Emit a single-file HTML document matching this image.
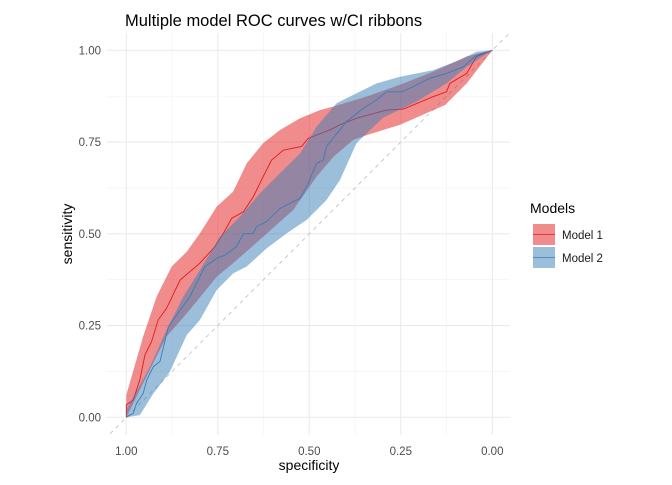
<!DOCTYPE html>
<html><head><meta charset="utf-8"><style>
body{margin:0;background:#fff}
svg text{font-family:"Liberation Sans",Arial,sans-serif}
</style></head><body>
<svg id="chart" width="672" height="480" xmlns="http://www.w3.org/2000/svg">
<defs><clipPath id="pc"><rect x="107" y="33" width="403" height="402"/></clipPath></defs>
<text x="125" y="26" font-size="16.5" fill="#000">Multiple model ROC curves w/CI ribbons</text>
<g id="grid"></g>
<g id="marks" clip-path="url(#pc)"></g>
<g id="axes"></g>
<text x="309" y="470" font-size="14" text-anchor="middle">specificity</text>
<text transform="translate(72,234) rotate(-90)" font-size="14" text-anchor="middle">sensitivity</text>
<g>
<text x="530" y="213" font-size="14">Models</text>
<g>
<rect x="533" y="224" width="22" height="21" fill="#e41a1c" fill-opacity="0.5"/>
<line x1="533" y1="234.5" x2="555" y2="234.5" stroke="#e41a1c" stroke-width="0.8"/>
<text x="562" y="239" font-size="11.5" fill="#1a1a1a">Model 1</text></g>
<g>
<rect x="533" y="247" width="22" height="21" fill="#377eb8" fill-opacity="0.5"/>
<line x1="533" y1="257.5" x2="555" y2="257.5" stroke="#377eb8" stroke-width="0.8"/>
<text x="562" y="262" font-size="11.5" fill="#1a1a1a">Model 2</text></g>
</g>
</svg>
<script>
const xTicks=[1.00,0.75,0.50,0.25,0.00];
const yTicks=[0.00,0.25,0.50,0.75,1.00];
const xTickLabels=["1.00","0.75","0.50","0.25","0.00"];
const yTickLabels=["0.00","0.25","0.50","0.75","1.00"];
const m1Spec=[1,1,0.981,0.963,0.949,0.931,0.913,0.890,0.853,0.799,0.758,0.735,0.712,0.680,0.653,0.626,0.603,0.571,0.521,0.503,0.444,0.416,0.371,0.289,0.243,0.161,0.125,0.116,0.070,0.043,0];
const m1Sens=[0,0.034,0.047,0.102,0.170,0.206,0.265,0.297,0.374,0.420,0.465,0.501,0.542,0.560,0.601,0.656,0.701,0.728,0.738,0.760,0.783,0.797,0.815,0.837,0.840,0.874,0.887,0.910,0.937,0.983,1];
const m1UpSpec=[1,0.954,0.917,0.876,0.835,0.799,0.753,0.708,0.671,0.626,0.580,0.525,0.471,0.434,0.343,0.252,0.161,0.070,0];
const m1UpSens=[0.061,0.220,0.329,0.411,0.451,0.501,0.574,0.615,0.692,0.747,0.783,0.815,0.837,0.847,0.874,0.906,0.942,0.983,1];
const m1LoSpec=[1,0.954,0.890,0.835,0.753,0.708,0.626,0.544,0.480,0.434,0.380,0.343,0.252,0.129,0.070,0];
const m1LoSens=[0,0.093,0.220,0.283,0.383,0.420,0.492,0.565,0.656,0.710,0.756,0.769,0.797,0.851,0.910,1];
const m2Spec=[1,0.981,0.972,0.954,0.944,0.926,0.908,0.885,0.853,0.826,0.808,0.785,0.753,0.730,0.699,0.680,0.653,0.644,0.617,0.580,0.525,0.507,0.480,0.462,0.453,0.398,0.352,0.316,0.289,0.248,0.216,0.170,0.125,0.079,0.043,0];
const m2Sens=[0,0.011,0.038,0.065,0.102,0.138,0.152,0.247,0.292,0.329,0.365,0.411,0.433,0.442,0.465,0.500,0.501,0.520,0.533,0.569,0.597,0.629,0.692,0.701,0.738,0.806,0.842,0.865,0.887,0.887,0.901,0.924,0.937,0.955,0.987,1];
const m2UpSpec=[1,0.935,0.890,0.844,0.799,0.744,0.689,0.635,0.580,0.525,0.480,0.425,0.371,0.316,0.252,0.161,0.088,0.043,0];
const m2UpSens=[0.020,0.138,0.238,0.329,0.401,0.492,0.547,0.610,0.665,0.719,0.792,0.856,0.883,0.910,0.928,0.946,0.974,0.996,1];
const m2LoSpec=[1,0.963,0.926,0.881,0.835,0.799,0.753,0.708,0.671,0.617,0.562,0.507,0.453,0.416,0.371,0.298,0.207,0.125,0.070,0];
const m2LoSens=[0,0.006,0.065,0.124,0.224,0.265,0.347,0.392,0.411,0.460,0.501,0.538,0.592,0.647,0.747,0.817,0.860,0.910,0.955,1];

const NS="http://www.w3.org/2000/svg";
const X=s=>492.3-(s)*366;
const Y=v=>417.3-v*367;
function mk(tag,attrs,parent){const e=document.createElementNS(NS,tag);for(const k in attrs)e.setAttribute(k,attrs[k]);parent.appendChild(e);return e;}
const grid=document.getElementById('grid'),marks=document.getElementById('marks'),axes=document.getElementById('axes');
for(let i=0;i<xTicks.length-1;i++){const m=(xTicks[i]+xTicks[i+1])/2;
 const l=mk('line',{x1:X(m),x2:X(m),y1:33,y2:435,stroke:'#f2f2f2','stroke-width':0.6},grid);
 
 }
for(let i=0;i<yTicks.length-1;i++){const m=(yTicks[i]+yTicks[i+1])/2;
 const l=mk('line',{x1:107,x2:510,y1:Y(m),y2:Y(m),stroke:'#f2f2f2','stroke-width':0.6},grid);
 
 }
xTicks.forEach((t,i)=>{
 const l=mk('line',{x1:X(t),x2:X(t),y1:33,y2:435,stroke:'#ebebeb','stroke-width':1.1},grid);
 
 
 const tx=mk('text',{x:X(t),y:455,'font-size':11.5,fill:'#4d4d4d','text-anchor':'middle'},axes);tx.textContent=xTickLabels[i];
 
 
});
yTicks.forEach((t,i)=>{
 const l=mk('line',{x1:107,x2:510,y1:Y(t),y2:Y(t),stroke:'#ebebeb','stroke-width':1.1},grid);
 
 
 const tx=mk('text',{x:101,y:Y(t)+4,'font-size':11.5,fill:'#4d4d4d','text-anchor':'end'},axes);tx.textContent=yTickLabels[i];
 
 
});
const d=mk('line',{x1:X(1.06),y1:Y(-0.06),x2:X(-0.06),y2:Y(1.06),stroke:'#bdbdbd','stroke-width':0.8,'stroke-dasharray':'4,4'},marks);


function ribbon(us,uv,ls,lv,color,name){
 let p=us.map((s,i)=>X(s)+','+Y(uv[i]));
 for(let i=ls.length-1;i>=0;i--)p.push(X(ls[i])+','+Y(lv[i]));
 const e=mk('polygon',{points:p.join(' '),fill:color,'fill-opacity':0.5},marks);
 
 
}
function line(sp,se,color,name){
 const e=mk('polyline',{points:sp.map((s,i)=>X(s)+','+Y(se[i])).join(' '),fill:'none',stroke:color,'stroke-width':0.9},marks);
 
 
}
ribbon(m1UpSpec,m1UpSens,m1LoSpec,m1LoSens,'#e41a1c','model-1-ci-ribbon');
line(m1Spec,m1Sens,'#e41a1c','model-1-roc-line');
ribbon(m2UpSpec,m2UpSens,m2LoSpec,m2LoSens,'#377eb8','model-2-ci-ribbon');
line(m2Spec,m2Sens,'#377eb8','model-2-roc-line');
</script>
</body></html>
